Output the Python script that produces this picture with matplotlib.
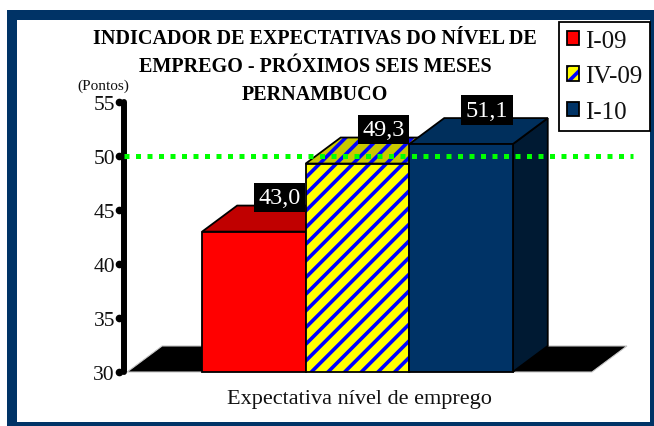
import numpy as np
import matplotlib
matplotlib.use('Agg')
import matplotlib.pyplot as plt
from matplotlib.patches import Patch, Rectangle
from matplotlib.legend_handler import HandlerTuple
import matplotlib.transforms as mtransforms

# data
category = 'Expectativa nível de emprego'
series = ['I-09', 'IV-09', 'I-10']
values = [43.0, 49.3, 51.1]
reference = 50
y_ticks = [30, 35, 40, 45, 50, 55]
title_lines = ['INDICADOR DE EXPECTATIVAS DO NÍVEL DE',
               'EMPREGO - PRÓXIMOS SEIS MESES',
               'PERNAMBUCO']

plt.rcParams['font.family'] = ['Liberation Serif', 'DejaVu Serif']
plt.rcParams['hatch.linewidth'] = 2.6

front = ['#FF0000', '#FFFF00', '#003366']
top = ['#C00000', '#C8C800', '#002F5C']
side = ['#900000', '#A0A000', '#001A33']
hatch = [None, '//', None]
navy = '#003366'
txt = '#111111'

fig = plt.figure(figsize=(6.54, 4.27), dpi=100)
ax = fig.add_axes([124 / 654, 54 / 427, 513 / 654, 270 / 427])
ax.set_xlim(-1.255, 3.7)
ax.set_ylim(30, 55)
for s in ax.spines.values():
    s.set_visible(False)

# depth of the 3d effect in data units
dx, dy = 0.338, 2.41
bw = 1.0
fx0, fx1 = -0.5 - 0.725, len(values) - 0.5 + 0.765
y0 = 30

# floor
ax.fill([fx0, fx1, fx1 + dx, fx0 + dx], [y0, y0, y0 + dy, y0 + dy],
        facecolor='black', edgecolor='#C8C8C8', lw=0.8, clip_on=False, zorder=1)


def face(xs, ys, fc, h, z):
    if h:
        ax.fill(xs, ys, facecolor=fc, edgecolor='#0000FF', hatch=h, lw=0,
                clip_on=False, zorder=z)
        ax.fill(xs, ys, fill=False, edgecolor='black', lw=1.3,
                clip_on=False, zorder=z)
    else:
        ax.fill(xs, ys, facecolor=fc, edgecolor='black', lw=1.3,
                clip_on=False, zorder=z)


for i, v in enumerate(values):
    x0, x1 = i - bw / 2, i + bw / 2
    z = 2 + i
    face([x1, x1 + dx, x1 + dx, x1], [y0, y0 + dy, v + dy, v], side[i], hatch[i], z)
    face([x0, x1, x1 + dx, x0 + dx], [v, v, v + dy, v + dy], top[i], hatch[i], z)
    face([x0, x1, x1, x0], [y0, y0, v, v], front[i], hatch[i], z)

# reference line at 50
ax.plot([-1.255, 3.663], [reference, reference], color='#00FF00', lw=3.6,
        linestyle=(0, (1, 1.3)), dash_capstyle='butt', clip_on=False, zorder=8)

# value labels
for i, v in enumerate(values):
    ax.text(i + 0.25, v + 3.15, f'{v:.1f}'.replace('.', ','), color='white',
            fontsize=17.5, ha='center', va='center', zorder=9,
            bbox=dict(boxstyle='square,pad=0.18', facecolor='black', edgecolor='none'))

# y axis
ax.plot([-1.255, -1.255], [30, 55], color='black', lw=4.3, solid_capstyle='round',
        clip_on=False, zorder=7)
trans = mtransforms.blended_transform_factory(ax.transAxes, ax.transData)
ax.plot([-0.010] * len(y_ticks), y_ticks, 'o', color='black', ms=4.5,
        transform=trans, clip_on=False, zorder=7)
ax.set_yticks(y_ticks)
ax.tick_params(axis='y', length=0, pad=6.5, labelsize=15.5, colors=txt)
ax.set_xticks([(fx0 + fx1) / 2])
ax.set_xticklabels([category])
ax.tick_params(axis='x', length=0, pad=12, labelsize=16, colors=txt)

fig.text(103.5 / 654, 1 - 86 / 427, '(Pontos)', fontsize=11, ha='center', va='center',
         color=txt)
for k, line in enumerate(title_lines):
    fig.text(315 / 654, 1 - (39.5 + 28 * k) / 427, line, fontsize=14.5,
             fontweight='bold', ha='center', va='center')

# legend
handles = [
    (Patch(facecolor=front[0], edgecolor='black', lw=1.3),),
    (Patch(facecolor=front[1], edgecolor='#0000FF', hatch='//', lw=0),
     Patch(fill=False, edgecolor='black', lw=1.3)),
    (Patch(facecolor=front[2], edgecolor='black', lw=1.3),),
]
leg = fig.legend(handles, series, loc='upper right',
                 bbox_to_anchor=(650 / 654, 1 - 23 / 427), fontsize=18,
                 handler_map={tuple: HandlerTuple(ndivide=1)},
                 handlelength=0.5, handleheight=0.5, handletextpad=0.25,
                 labelspacing=0.55, borderpad=0.3, borderaxespad=0,
                 fancybox=False, framealpha=1, edgecolor='black')
leg.get_frame().set_linewidth(1.3)
for t in leg.get_texts():
    t.set_color(txt)

# outer frame
fig.patches.append(Rectangle((12 / 654, -1 / 427), 643 / 654, 412 / 427,
                             transform=fig.transFigure, fill=False,
                             edgecolor=navy, lw=7.2, zorder=0))

fig.savefig('out.png', dpi=100, facecolor='white')
